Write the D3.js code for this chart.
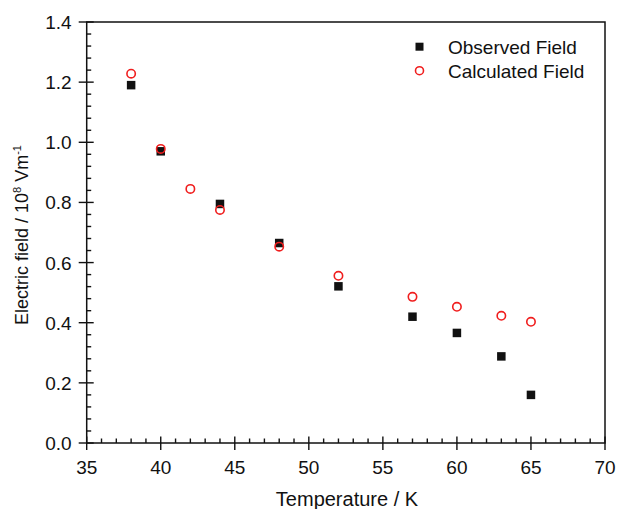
<!DOCTYPE html>
<html>
<head>
<meta charset="utf-8">
<script src="https://cdn.jsdelivr.net/npm/d3@7"></script>
<style>
  html, body { margin: 0; padding: 0; background: #fff; }
  svg { display: block; }
  text { font-family: "Liberation Sans", Arial, sans-serif; fill: #111; }
</style>
</head>
<body>
<svg id="chart" width="617" height="509"></svg>
<script>
// Temperature (K) and field strength (10^8 V/m)
const observedT = [38, 40, 44, 48, 52, 57, 60, 63, 65];
const observedE = [1.19, 0.97, 0.795, 0.665, 0.521, 0.42, 0.366, 0.288, 0.16];
const calculatedT = [38, 40, 42, 44, 48, 52, 57, 60, 63, 65];
const calculatedE = [1.228, 0.978, 0.845, 0.775, 0.653, 0.556, 0.486, 0.453, 0.423, 0.403];

const xTicks = [35, 40, 45, 50, 55, 60, 65, 70];
const yTicks = [0.0, 0.2, 0.4, 0.6, 0.8, 1.0, 1.2, 1.4];
const legendLabels = ["Observed Field", "Calculated Field"];

const svg = d3.select("#chart");
const plotL = 86.7, plotR = 605, plotT = 22, plotB = 443;

const x = d3.scaleLinear().domain([35, 70]).range([plotL, plotR]);
const y = d3.scaleLinear().domain([0, 1.4]).range([plotB, plotT]);

const ink = "#111";
const red = "#f01e1e";

// minor ticks (inward only)
const xMinor = d3.range(35, 70.001, 1).filter(v => v % 5 !== 0);
const yMinor = d3.range(0, 1.4001, 0.04).filter((v, i) => i % 5 !== 0);

const g = svg.append("g").attr("stroke", ink).attr("stroke-width", 1.4);

g.selectAll(".xmin").data(xMinor).join("line")
  .attr("x1", d => x(d)).attr("x2", d => x(d))
  .attr("y1", plotB).attr("y2", plotB - 4.5);
g.selectAll(".ymin").data(yMinor).join("line")
  .attr("y1", d => y(d)).attr("y2", d => y(d))
  .attr("x1", plotL).attr("x2", plotL + 4.5);

// major ticks (crossing the axis)
g.selectAll(".xmaj").data(xTicks).join("line")
  .attr("x1", d => x(d)).attr("x2", d => x(d))
  .attr("y1", plotB - 6.5).attr("y2", plotB + 7);
g.selectAll(".ymaj").data(yTicks).join("line")
  .attr("y1", d => y(d)).attr("y2", d => y(d))
  .attr("x1", plotL - 8).attr("x2", plotL + 7);

// frame
svg.append("rect")
  .attr("x", plotL).attr("y", plotT)
  .attr("width", plotR - plotL).attr("height", plotB - plotT)
  .attr("fill", "none").attr("stroke", ink).attr("stroke-width", 1.5);

// tick labels
svg.selectAll(".xl").data(xTicks).join("text")
  .attr("x", d => x(d)).attr("y", plotB + 31)
  .attr("text-anchor", "middle").attr("font-size", 19)
  .text(d => d);
svg.selectAll(".yl").data(yTicks).join("text")
  .attr("x", plotL - 15).attr("y", d => y(d) + 7)
  .attr("text-anchor", "end").attr("font-size", 19)
  .text(d => d3.format(".1f")(d));

// axis titles
svg.append("text")
  .attr("x", 347).attr("y", 506)
  .attr("text-anchor", "middle").attr("font-size", 20)
  .text("Temperature / K");

const yt = svg.append("text")
  .attr("transform", "translate(28,235) rotate(-90)")
  .attr("text-anchor", "middle").attr("font-size", 18);
yt.append("tspan").text("Electric field / 10");
yt.append("tspan").attr("font-size", 11).attr("dy", -7).text("8");
yt.append("tspan").attr("dy", 7).text(" Vm");
yt.append("tspan").attr("font-size", 11).attr("dy", -7).text("-1");

// data: observed (filled squares)
const sq = 8.5;
svg.selectAll(".obs").data(observedT.map((t, i) => [t, observedE[i]])).join("rect")
  .attr("x", d => x(d[0]) - sq / 2).attr("y", d => y(d[1]) - sq / 2)
  .attr("width", sq).attr("height", sq).attr("fill", ink);

// data: calculated (open circles)
svg.selectAll(".calc").data(calculatedT.map((t, i) => [t, calculatedE[i]])).join("circle")
  .attr("cx", d => x(d[0])).attr("cy", d => y(d[1])).attr("r", 4.2)
  .attr("fill", "none").attr("stroke", red).attr("stroke-width", 1.6);

// legend
const lx = 419.5;
svg.append("rect").attr("x", lx - 4).attr("y", 46.7 - 4).attr("width", 8).attr("height", 8).attr("fill", ink);
svg.append("circle").attr("cx", lx).attr("cy", 70.7).attr("r", 4)
  .attr("fill", "none").attr("stroke", red).attr("stroke-width", 1.6);
svg.append("text").attr("x", 448).attr("y", 54).attr("font-size", 19).text(legendLabels[0]);
svg.append("text").attr("x", 448).attr("y", 78).attr("font-size", 19).text(legendLabels[1]);
</script>
</body>
</html>
